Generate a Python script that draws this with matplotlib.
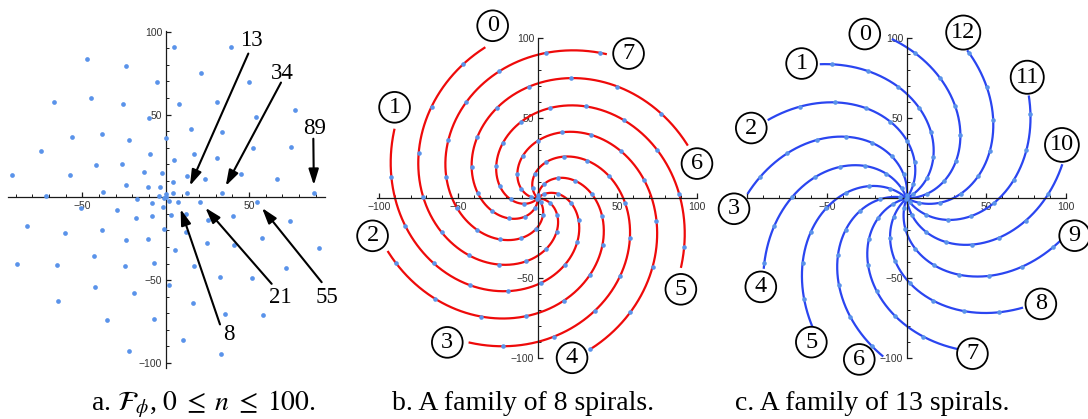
import numpy as np
import matplotlib
matplotlib.use("Agg")
import matplotlib.pyplot as plt
from matplotlib.ticker import MultipleLocator

# ---- data -------------------------------------------------------------
PHI = (1 + 5 ** 0.5) / 2                 # golden ratio
n_values = np.arange(0, 101)             # lattice indices, 0 <= n <= 100
t_max = 100                              # spirals are traced out to radius 100

# indices pointed out in panel a
marked_n = [13, 34, 89, 21, 55, 8]

# spiral families: number of arms and the label printed at the outer end
# of the arm through n = k (k = 0 .. arms-1)
family_b_arms = 8
family_b_labels = [0, 5, 2, 7, 4, 1, 6, 3]
family_c_arms = 13
family_c_labels = [0, 8, 3, 11, 6, 1, 9, 4, 12, 7, 2, 10, 5]

captions = [r"a. $\mathcal{F}_{\phi}$, $0\;\leq\;n\;\leq\;100$.",
            "b. A family of 8 spirals.",
            "c. A family of 13 spirals."]

# ---- style ------------------------------------------------------------
DOT = "#5a93ea"
RED = "#ee0a0a"
BLUE = "#2a45f0"
AXIS = "#1a1a1a"
SERIF = "Liberation Serif"
SANS = "Liberation Sans"
plt.rcParams["mathtext.fontset"] = "stix"


def lattice(n):
    """Point n of F_phi: radius n, angle 2*pi*n*phi."""
    ang = 2 * np.pi * n * PHI
    return n * np.cos(ang), n * np.sin(ang)


def arm(k, arms, t):
    """Smooth arm of a family through the points k, k+arms, k+2*arms, ..."""
    step = arms * PHI - round(arms * PHI)
    ang = 2 * np.pi * (k * PHI + step * (t - k) / arms)
    return t * np.cos(ang), t * np.sin(ang), ang


def style_axes(ax, xlim, ylim, xt, yt, xlabels=None):
    ax.set_xlim(*xlim)
    ax.set_ylim(*ylim)
    for s in ("top", "right"):
        ax.spines[s].set_visible(False)
    for s in ("left", "bottom"):
        ax.spines[s].set_position("zero")
        ax.spines[s].set_color(AXIS)
        ax.spines[s].set_linewidth(0.9)
    ax.set_xticks(xt)
    if xlabels is not None:
        ax.set_xticklabels(xlabels)
    ax.set_yticks(yt)
    ax.xaxis.set_minor_locator(MultipleLocator(10))
    ax.yaxis.set_minor_locator(MultipleLocator(10))
    ax.tick_params(which="major", direction="in", length=3.5, width=0.9,
                   color=AXIS, labelsize=7.5, labelcolor="#333333", pad=2.5)
    ax.tick_params(which="minor", direction="in", length=2, width=0.7,
                   color=AXIS)
    for lab in ax.get_xticklabels() + ax.get_yticklabels():
        lab.set_fontfamily(SANS)
    ax.patch.set_visible(False)


W, H = 1088, 419
fig = plt.figure(figsize=(W / 100, H / 100), dpi=100)


def rect(left, right, top, bottom):
    return [left / W, 1 - bottom / H, (right - left) / W, (bottom - top) / H]


# ---- panel a: the lattice ----------------------------------------------
ax_a = fig.add_axes(rect(8.3, 325, 30.7, 368))
style_axes(ax_a, (-94.4, 95.6), (-103, 100.6), [-50, 50], [-100, -50, 50, 100])
xa, ya = lattice(n_values)
ax_a.plot(xa, ya, "o", ms=3.4, color=DOT, mec="none", zorder=3)

label_pos = {13: (51.6, 94.5), 34: (70.2, 74.7), 89: (89.2, 41.5),
             21: (68.6, -60.2), 55: (97.0, -60.2), 8: (38.2, -82.8)}
arrow_tail = {13: (49.6, 86.8), 34: (69.2, 69.3), 89: (88.6, 35.4),
              21: (63.6, -52.2), 55: (93.6, -51.2), 8: (32.6, -76.7)}
gap = 4.6
for n in marked_n:
    px, py = lattice(n)
    tx, ty = arrow_tail[n]
    d = np.hypot(tx - px, ty - py)
    hx, hy = px + gap * (tx - px) / d, py + gap * (ty - py) / d
    ax_a.annotate("", xy=(hx, hy), xytext=(tx, ty),
                  arrowprops=dict(arrowstyle="-|>,head_length=0.95,head_width=0.3",
                                  mutation_scale=10, lw=1.5, color="black",
                                  shrinkA=0, shrinkB=0),
                  annotation_clip=False, zorder=4)
    ax_a.text(*label_pos[n], str(n), fontsize=16.5, family=SERIF,
              ha="center", va="center", zorder=5, clip_on=False)


# ---- panels b and c: spiral families -----------------------------------
def spiral_panel(ax, arms, labels, colour, lw, lab_r, lab_off, overrides):
    t = np.linspace(0, t_max, 600)
    for k in range(arms):
        x, y, ang = arm(k, arms, t)
        ax.plot(x, y, color=colour, lw=lw, zorder=2, clip_on=False,
                solid_capstyle="butt")
        end_ang = np.degrees(ang[-1])
        lab = labels[k]
        off, r = overrides.get(lab, (lab_off, lab_r))
        a = np.radians(end_ang + off)
        ax.text(r * np.cos(a), r * np.sin(a), str(lab), fontsize=17.5,
                family=SERIF, ha="center", va="center", zorder=6,
                clip_on=False,
                bbox=dict(boxstyle="circle,pad=0.2", fc="white", ec="black",
                          lw=1.3))
    xd, yd = lattice(n_values)
    ax.plot(xd, yd, "o", ms=3.3, color=DOT, mec="none", zorder=3,
            clip_on=False)


ax_b = fig.add_axes(rect(377.3, 696.7, 38.3, 358.3))
style_axes(ax_b, (-100.9, 100), (-100, 100), [-100, -50, 50, 100],
           [-100, -50, 50, 100])
spiral_panel(ax_b, family_b_arms, family_b_labels, RED, 1.6, 106.5, -6.5,
             {0: (-4.5, 111.5), 7: (-6.5, 107), 6: (-7, 102.5),
              4: (-7, 102)})

ax_c = fig.add_axes(rect(747.4, 1066, 38.3, 358.3))
# the -100 label of the x axis sits under the circled 3, so it is left blank
style_axes(ax_c, (-100, 100), (-100, 100), [-100, -50, 50, 100],
           [-100, -50, 50, 100], xlabels=["", "\u221250", "50", "100"])
spiral_panel(ax_c, family_c_arms, family_c_labels, BLUE, 1.6, 107, 5,
             {0: (9, 106), 6: (-8, 105), 12: (3.4, 109.5), 10: (6.6, 103),
              9: (2.9, 108), 7: (3.8, 105.5), 5: (2.5, 108),
              3: (5, 108.6)})

# ---- captions ----------------------------------------------------------
cap_x = [203, 523, 872.5]
for cx, cap in zip(cap_x, captions):
    fig.text(cx / W, 1 - 410 / H, cap, fontsize=20, family=SERIF,
             ha="center", va="baseline")

fig.savefig("out.png", dpi=100)
